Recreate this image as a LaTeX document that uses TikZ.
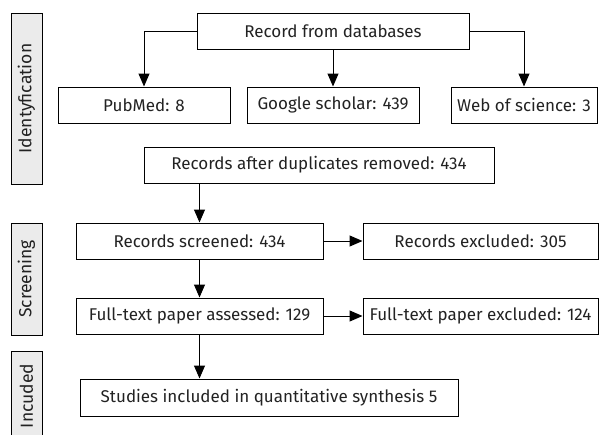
\documentclass[tikz,border=0pt]{standalone}
\usepackage{fontspec}
\setmainfont{Fira Sans}
\usetikzlibrary{arrows.meta}
\definecolor{txt}{HTML}{222222}
\definecolor{sidefill}{HTML}{EBEBEB}
\tikzset{
  box/.style={draw=black, line width=1pt, minimum height=36pt, inner sep=0pt,
    text=txt, font=\fontsize{17}{19}\selectfont},
  side/.style={draw=black, line width=1pt, fill=sidefill, rotate=90,
    minimum height=31pt, inner sep=0pt, text=txt, font=\fontsize{17.5}{19}\selectfont},
  arr/.style={draw=black, line width=1pt, -{Triangle[length=13pt,width=11pt]}}
}
\begin{document}
\begin{tikzpicture}[x=1pt,y=-1pt]
\useasboundingbox (0,0) rectangle (609,434);
% stage labels
\node[side, minimum width=171pt] (sid) at (26.5,98.5) {Identyfication};
\node[side, minimum width=112pt] (sscr) at (26.5,279) {Screening};
\node[side, minimum width=90pt] (sinc) at (26.5,396) {Incuded};
% identification
\node[box, minimum width=272pt] (db) at (333,31) {Record from databases};
\node[box, minimum width=172pt] (pub) at (144,105) {PubMed: 8};
\node[box, minimum width=172pt] (gs) at (333,105) {Google scholar: 439};
\node[box, minimum width=146pt] (wos) at (524,105) {Web of science: 3};
\node[box, minimum width=350pt] (dup) at (319,165) {Records after duplicates removed: 434};
% screening
\node[box, minimum width=247pt] (scr) at (199.5,241) {Records screened: 434};
\node[box, minimum width=235pt] (exc) at (480.5,241) {Records excluded: 305};
\node[box, minimum width=247pt] (full) at (199.5,316) {Full-text paper assessed: 129};
\node[box, minimum width=235pt] (fexc) at (480.5,316) {Full-text paper excluded: 124};
% included
\node[box, minimum width=378pt, minimum height=37pt] (inc) at (269,397.5) {Studies included in quantitative synthesis 5};
% connectors
\draw[arr] (db.west) -| (pub.north);
\draw[arr] (db.south) -- (gs.north);
\draw[arr] (db.east) -| (wos.north);
\draw[arr] (scr.north |- dup.south) -- (scr.north);
\draw[arr] (scr.east) -- (exc.west);
\draw[arr] (scr.south) -- (full.north);
\draw[arr] (full.east) -- (fexc.west);
\draw[arr] (full.south) -- (full.south |- inc.north);
\end{tikzpicture}
\end{document}
